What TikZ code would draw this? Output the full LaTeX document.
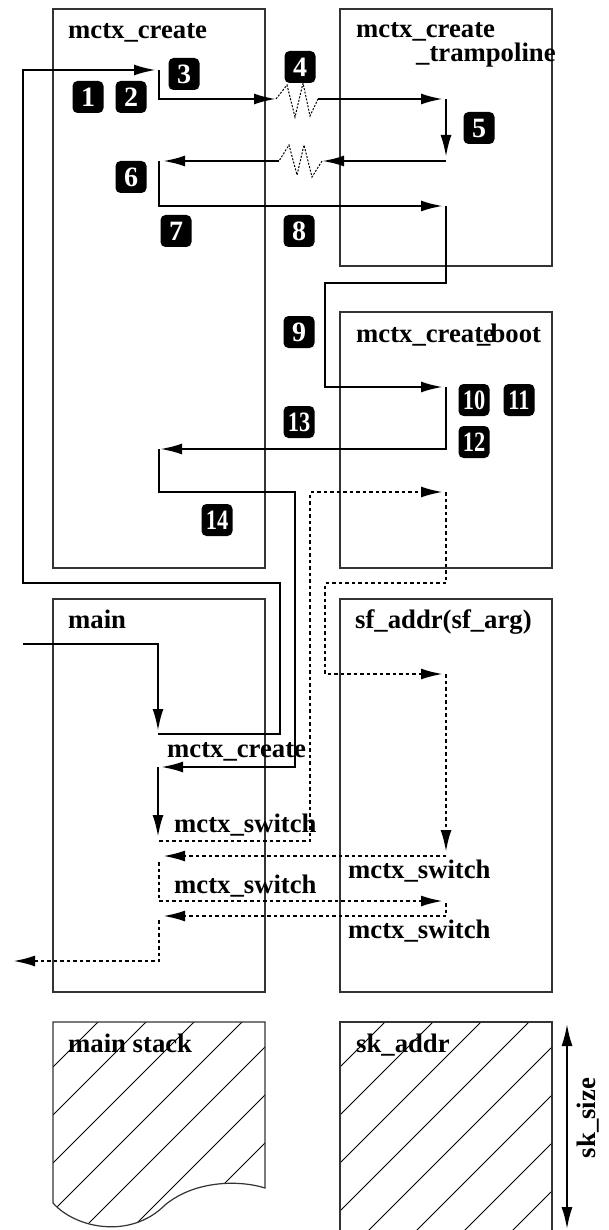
\documentclass[tikz,border=0pt]{standalone}
\usepackage{fontspec}
\setmainfont{Liberation Serif}
\usepackage{graphicx}
\usetikzlibrary{arrows.meta}

\tikzset{
  frame/.style={draw=black!80, line width=1.2pt},
  callarr/.style={line width=2.4pt, -{Latex[length=22pt,width=11pt]}},
  switcharr/.style={callarr, dash pattern=on 3.5pt off 3pt},
  zig/.style={line width=1pt, dash pattern=on 2pt off 1.5pt},
  hatch/.style={line width=0.9pt},
  lbl/.style={anchor=base west, inner sep=0pt, font=\bfseries\fontsize{26.7}{28}\selectfont},
  badge/.style={fill=black, text=white, rounded corners=5pt, minimum width=31pt,
    minimum height=32pt, inner sep=1pt, font=\bfseries\fontsize{28}{28}\selectfont},
}

\begin{document}
\begin{tikzpicture}[x=1pt,y=-1pt]
\useasboundingbox (0,0) rectangle (608,1230);

% frames
\draw[frame] (53,9) rectangle (265,568);
\draw[frame] (340,9) rectangle (552,266);
\draw[frame] (340,312) rectangle (552,568);
\draw[frame] (53,599) rectangle (265,992);
\draw[frame] (340,599) rectangle (552,992);

% stacks
\begin{scope}
\clip (53,1022) -- (265,1022) -- (265,1188) .. controls (240,1180) and (195,1180) .. (165,1205)
  .. controls (130,1240) and (75,1228) .. (53,1203) -- cycle;
\foreach \c in {1120,1168,...,1408}
  \draw[hatch] (\c-1250,1250) -- (\c-1000,1000);
\end{scope}
\draw[frame] (53,1203) -- (53,1022) -- (265,1022) -- (265,1188) .. controls (240,1180) and (195,1180) .. (165,1205)
  .. controls (130,1240) and (75,1228) .. (53,1203);

\begin{scope}
\clip (340,1022) rectangle (552,1240);
\foreach \c in {1407,1455,...,1791}
  \draw[hatch] (\c-1250,1250) -- (\c-1000,1000);
\end{scope}
\draw[frame] (340,1240) -- (340,1022) -- (552,1022) -- (552,1240);

% titles
\node[lbl] (tc) at (68,39) {mctx\_create};
\node[lbl] (tt1) at (356,38) {mctx\_create};
\node[lbl] (tt2) at (416,62) {\_trampoline};
\node[lbl] (tb1) at (356,342) {mctx\_create};
\node[lbl] (tb2) at (477,342) {\_boot};
\node[lbl] (tm) at (68,628) {main};
\node[lbl] (ts) at (355,628) {sf\_addr(sf\_arg)};
\node[lbl] (lc) at (167,757) {mctx\_create};
\node[lbl] (ls1) at (174,832) {mctx\_switch};
\node[lbl] (ls2) at (174,893) {mctx\_switch};
\node[lbl] (rs1) at (348,878) {mctx\_switch};
\node[lbl] (rs2) at (348,938) {mctx\_switch};
\node[lbl] (tms) at (68,1052) {main stack};
\node[lbl] (tsk) at (356,1052) {sk\_addr};
\node[lbl, anchor=center, rotate=90] (tsz) at (588,1118) {sk\_size};

% steps
\node[badge] (n1) at (88,97) {1};
\node[badge] (n2) at (131,97) {2};
\node[badge] (n3) at (184,74) {3};
\node[badge] (n4) at (300,67) {4};
\node[badge] (n5) at (479,128) {5};
\node[badge] (n6) at (131,177) {6};
\node[badge] (n7) at (176,231) {7};
\node[badge] (n8) at (299,231) {8};
\node[badge] (n9) at (299,332) {9};
\node[badge] (n10) at (474,400) {\scalebox{0.8}[1]{10}};
\node[badge] (n11) at (519,400) {\scalebox{0.8}[1]{11}};
\node[badge] (n12) at (474,442) {\scalebox{0.8}[1]{12}};
\node[badge] (n13) at (299,422) {\scalebox{0.8}[1]{13}};
\node[badge] (n14) at (217,520) {\scalebox{0.8}[1]{14}};

% calls
\coordinate (in) at (23,644);
\coordinate (m2) at (158,731);
\draw[callarr] (in) -| (m2);

\coordinate (m3) at (158,734);
\coordinate (b1) at (280,583);
\coordinate (b2) at (23,583);
\coordinate (c3) at (156,70);
\draw[callarr] (m3) -| (b1) -- (b2) |- (c3);

\coordinate (c3s) at (159,70);
\coordinate (z1a) at (276,99);
\draw[callarr] (c3s) |- (z1a);
\coordinate (z1b) at (318,99);
\draw[zig] (z1a) -- ++(11,-14) -- ++(8,32) -- ++(8,-34) -- ++(7,33) -- (z1b);
\coordinate (t5a) at (443,99);
\draw[callarr] (z1b) -- (t5a);

\coordinate (t5s) at (446,99);
\coordinate (t5b) at (446,157);
\draw[callarr] (t5s) -- (t5b);
\coordinate (t5c) at (446,161);
\coordinate (z2a) at (322,161);
\draw[callarr] (t5c) -- (z2a);
\coordinate (z2b) at (279,161);
\draw[zig] (z2a) -- ++(-10,16) -- ++(-8,-32) -- ++(-7,30) -- ++(-8,-30) -- (z2b);
\coordinate (c6) at (163,161);
\draw[callarr] (z2b) -- (c6);

\coordinate (c6s) at (159,161);
\coordinate (t8) at (443,206);
\draw[callarr] (c6s) |- (t8);
\coordinate (t8s) at (446,206);
\coordinate (h1) at (325,283);
\coordinate (b10) at (443,387);
\draw[callarr] (t8s) |- (h1) |- (b10);
\coordinate (b10s) at (446,387);
\coordinate (c13) at (160,449);
\draw[callarr] (b10s) |- (c13);
\coordinate (c13s) at (159,449);
\coordinate (j1) at (295,492);
\coordinate (m4) at (161,767);
\draw[callarr] (c13s) |- (j1) |- (m4);
\coordinate (m4s) at (158,767);
\coordinate (m5) at (158,837);
\draw[callarr] (m4s) -- (m5);

% switches
\coordinate (d1) at (159,841);
\coordinate (d2) at (310,492);
\coordinate (d3) at (443,492);
\draw[switcharr] (d1) -| (d2) -- (d3);
\coordinate (d3s) at (446,492);
\coordinate (d4) at (325,583);
\coordinate (s1) at (443,674);
\draw[switcharr] (d3s) |- (d4) |- (s1);
\coordinate (s1s) at (446,674);
\coordinate (s2) at (446,852);
\draw[switcharr] (s1s) -- (s2);
\coordinate (s2s) at (446,856);
\coordinate (m6) at (163,856);
\draw[switcharr] (s2s) -- (m6);
\coordinate (m6s) at (159,862);
\coordinate (s3) at (443,901);
\draw[switcharr] (m6s) |- (s3);
\coordinate (s3s) at (446,903);
\coordinate (m7) at (163,916);
\draw[switcharr] (s3s) |- (m7);
\coordinate (m7s) at (159,920);
\coordinate (out) at (13,961);
\draw[switcharr] (m7s) |- (out);

% stack size
\coordinate (sz1) at (567,1024);
\coordinate (sz2) at (567,1229);
\draw[line width=2pt, {Latex[length=22pt,width=11pt]}-{Latex[length=22pt,width=11pt]}] (sz1) -- (sz2);

\end{tikzpicture}
\end{document}
